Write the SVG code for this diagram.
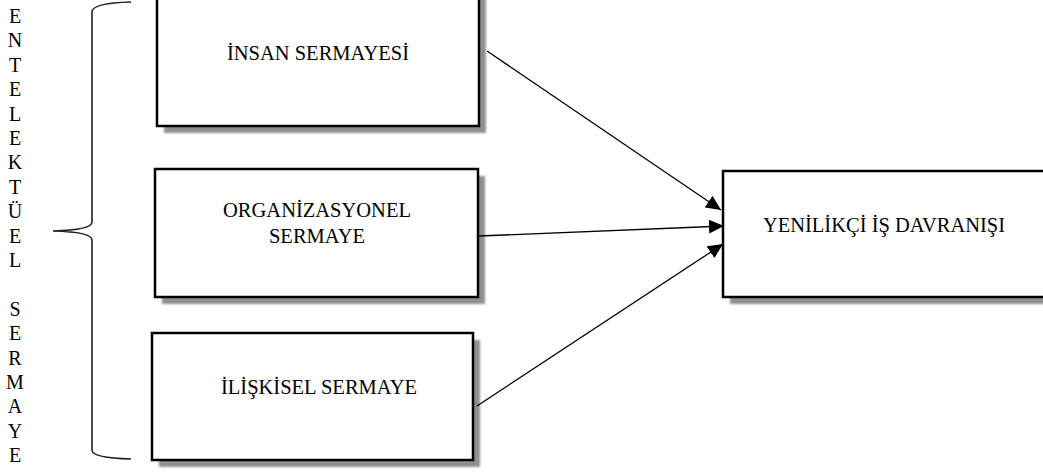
<svg xmlns="http://www.w3.org/2000/svg" width="1043" height="474" viewBox="0 0 1043 474">
<style>
.box{fill:#fff;stroke:#000;stroke-width:2.5}
.shadow{fill:#8f8f8f;filter:url(#blur)}
.t{font-family:"Liberation Serif","Times New Roman",serif;font-size:20.5px;fill:#000;text-anchor:middle}
.v{font-family:"Liberation Serif","Times New Roman",serif;font-size:20px;fill:#000;text-anchor:middle}
.conn{stroke:#000;stroke-width:1.3;fill:none;marker-end:url(#arr)}
</style>
<defs>
<filter id="blur" x="-5%" y="-5%" width="110%" height="110%"><feGaussianBlur stdDeviation="0.9"/></filter>
<marker id="arr" markerUnits="userSpaceOnUse" markerWidth="16" markerHeight="14" refX="15" refY="7" orient="auto">
<path d="M0,0 L15,7 L0,14 z" fill="#000"/>
</marker>
</defs>
<rect width="1043" height="474" fill="#fff"/>
<g id="label-left">
<text class="v" x="15"><tspan x="15" y="23">E</tspan><tspan x="15" y="47.4">N</tspan><tspan x="15" y="71.8">T</tspan><tspan x="15" y="96.2">E</tspan><tspan x="15" y="120.6">L</tspan><tspan x="15" y="145">E</tspan><tspan x="15" y="169.4">K</tspan><tspan x="15" y="193.8">T</tspan><tspan x="15" y="218.2">Ü</tspan><tspan x="15" y="242.6">E</tspan><tspan x="15" y="267">L</tspan><tspan x="15" y="315.8">S</tspan><tspan x="15" y="340.2">E</tspan><tspan x="15" y="364.6">R</tspan><tspan x="15" y="389">M</tspan><tspan x="15" y="413.4">A</tspan><tspan x="15" y="437.8">Y</tspan><tspan x="15" y="462.2">E</tspan></text>
</g>
<g id="brace">
<path d="M131,2 Q92,3 92,12 L92,222 Q92,230 53,231 Q92,232 92,240 L92,450 Q92,458 131,459" fill="none" stroke="#222" stroke-width="1.6"/>
</g>
<g id="node-insan">
<rect class="shadow" x="164" y="-3" width="322" height="136"/>
<rect class="box" x="157" y="-10" width="322" height="136"/>
<text class="t" x="318" y="60">İNSAN SERMAYESİ</text>
</g>
<g id="node-organizasyonel">
<rect class="shadow" x="162" y="176" width="323" height="128"/>
<rect class="box" x="155" y="169" width="323" height="128"/>
<text class="t" x="317" y="217">ORGANİZASYONEL</text>
<text class="t" x="317" y="243">SERMAYE</text>
</g>
<g id="node-iliskisel">
<rect class="shadow" x="159" y="340" width="321" height="127"/>
<rect class="box" x="152" y="333" width="321" height="127"/>
<text class="t" x="319" y="394">İLİŞKİSEL SERMAYE</text>
</g>
<g id="node-yenilikci">
<rect class="shadow" x="730" y="178" width="330" height="126"/>
<rect class="box" x="723" y="171" width="330" height="126"/>
<text class="t" x="884" y="232">YENİLİKÇİ İŞ DAVRANIŞI</text>
</g>
<g id="connectors">
<line class="conn" x1="487" y1="51" x2="721" y2="210"/>
<line class="conn" x1="479" y1="236" x2="724" y2="226"/>
<line class="conn" x1="477" y1="406" x2="723" y2="244"/>
</g>
</svg>
